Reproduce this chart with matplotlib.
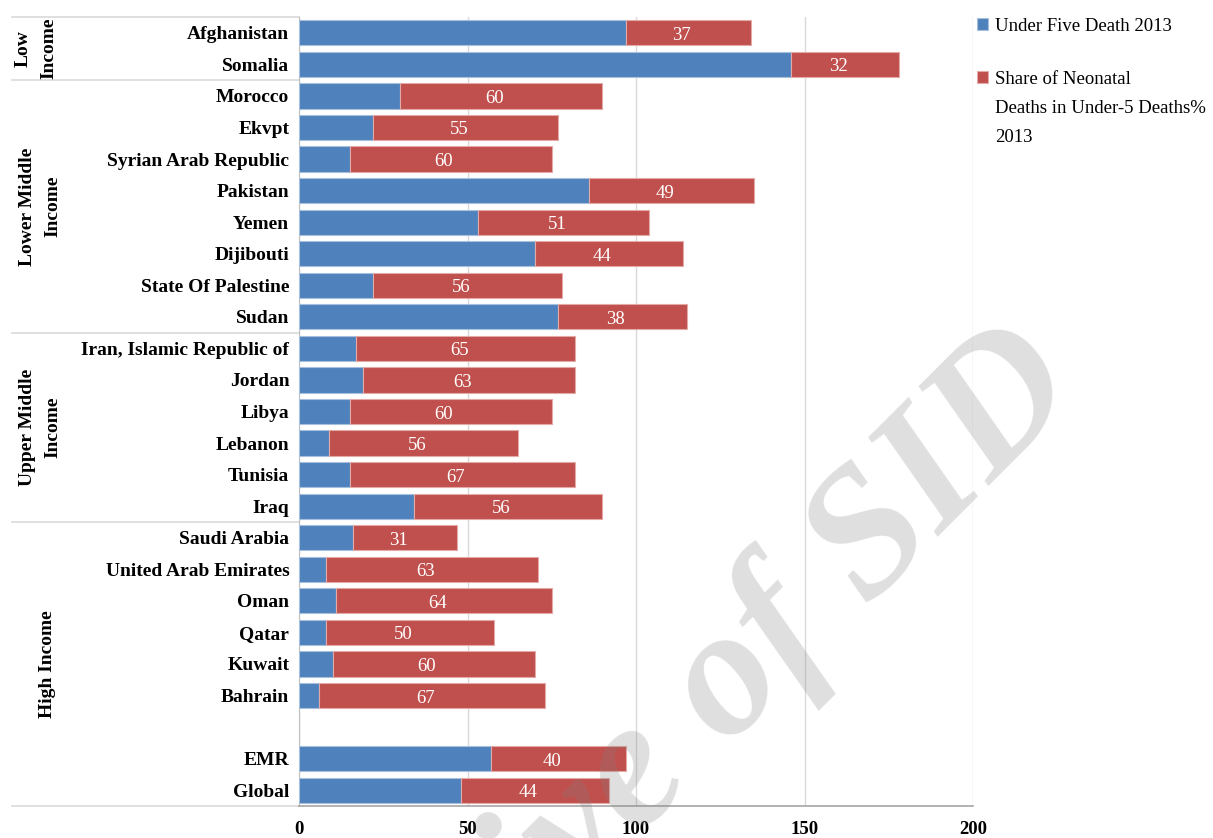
import numpy as np
import matplotlib
matplotlib.use('Agg')
import matplotlib.pyplot as plt
import matplotlib.transforms as mtransforms

# Data
countries = ['Afghanistan', 'Somalia', 'Morocco', 'Ekvpt', 'Syrian Arab Republic',
             'Pakistan', 'Yemen', 'Dijibouti', 'State Of Palestine', 'Sudan',
             'Iran, Islamic Republic of', 'Jordan', 'Libya', 'Lebanon', 'Tunisia', 'Iraq',
             'Saudi Arabia', 'United Arab Emirates', 'Oman', 'Qatar', 'Kuwait', 'Bahrain',
             '', 'EMR', 'Global']
under_five = [97, 146, 30, 22, 15, 86, 53, 70, 22, 77,
              17, 19, 15, 9, 15, 34,
              16, 8, 11, 8, 10, 6,
              np.nan, 57, 48]
neonatal_share = [37, 32, 60, 55, 60, 49, 51, 44, 56, 38,
                  65, 63, 60, 56, 67, 56,
                  31, 63, 64, 50, 60, 67,
                  np.nan, 40, 44]
groups = ['Low\nIncome', 'Lower Middle\nIncome', 'Upper Middle\nIncome', 'High Income']
group_bounds = [(-0.5, 1.5), (1.5, 9.5), (9.5, 15.5), (15.5, 24.5)]
group_xpix = [36, 40, 40, 47]

blue = '#4F81BD'
red = '#C0504D'
serif = ['Liberation Serif', 'DejaVu Serif']
plt.rcParams['font.family'] = serif

fig = plt.figure(figsize=(12.13, 8.38), dpi=100)
ax = fig.add_axes([299/1213, 1-806/838, 674/1213, 789/838])

y = np.arange(len(countries))
u5 = np.array(under_five, dtype=float)
nn = np.array(neonatal_share, dtype=float)

ax.barh(y, u5, height=0.8, color=blue, edgecolor='#a7c0de', linewidth=0.8,
        label='Under Five Death 2013', zorder=3)
ax.barh(y, nn, left=u5, height=0.8, color=red, edgecolor='#e3aaa8', linewidth=0.8,
        label='Share of Neonatal\nDeaths in Under-5 Deaths%\n2013', zorder=3)
for yi, l, w in zip(y, u5, nn):
    if np.isnan(w):
        continue
    ax.text(l + w/2 - 2, yi + 0.08, '%d' % w, color='white', fontsize=13.5,
            ha='center', va='center', zorder=4)

ax.set_xlim(0, 200)
ax.set_ylim(24.5, -0.5)
ax.set_xticks([0, 50, 100, 150, 200])
ax.set_yticks(y)
ax.set_yticklabels(countries, fontsize=14, fontweight='bold')
ax.tick_params(axis='y', length=0, pad=7)
ax.tick_params(axis='x', length=0, pad=11, labelsize=13.5)
for t in ax.get_xticklabels():
    t.set_fontweight('bold')
ax.xaxis.grid(True, color='#d9d9d9', linewidth=1, zorder=0)
ax.set_axisbelow(True)
for s in ['top', 'right']:
    ax.spines[s].set_visible(False)
ax.spines['left'].set_color('#bfbfbf')
ax.spines['bottom'].set_color('#a6a6a6')
ax.spines['bottom'].set_linewidth(1.2)

# group separators and labels on the left
trans = mtransforms.blended_transform_factory(ax.transAxes, ax.transData)
x0 = (12 - 299) / 674.0
for lo, hi in group_bounds:
    ax.plot([x0, 0], [lo, lo], color='#d9d9d9', lw=1.2, transform=trans, clip_on=False)
ax.plot([x0, 0], [24.5, 24.5], color='#d9d9d9', lw=1.2, transform=trans, clip_on=False)
for g, (lo, hi), xp in zip(groups, group_bounds, group_xpix):
    ax.text((xp - 299) / 674.0, (lo + hi) / 2, g, transform=trans, rotation=90,
            ha='center', va='center', multialignment='center', fontsize=14,
            fontweight='bold', linespacing=1.6)

leg = ax.legend(loc='upper left', bbox_to_anchor=(977/1213, 1-18/838),
                bbox_transform=fig.transFigure, frameon=False, fontsize=13.5,
                handlelength=0.6, handleheight=0.6, handletextpad=0.35,
                labelspacing=1.9, borderaxespad=0, borderpad=0)
leg.get_texts()[1].set_linespacing(1.95)
for col in leg._legend_handle_box.get_children():
    for row in col.get_children():
        row.align = 'top'

# watermark
fig.text(1087/1213, 1-398/838, 'Archive of SID', fontsize=132, style='italic',
         fontweight='bold', color='#808080', alpha=0.25, rotation=45,
         rotation_mode='anchor', ha='right', va='baseline', zorder=10)

fig.savefig('out.png', dpi=100)
